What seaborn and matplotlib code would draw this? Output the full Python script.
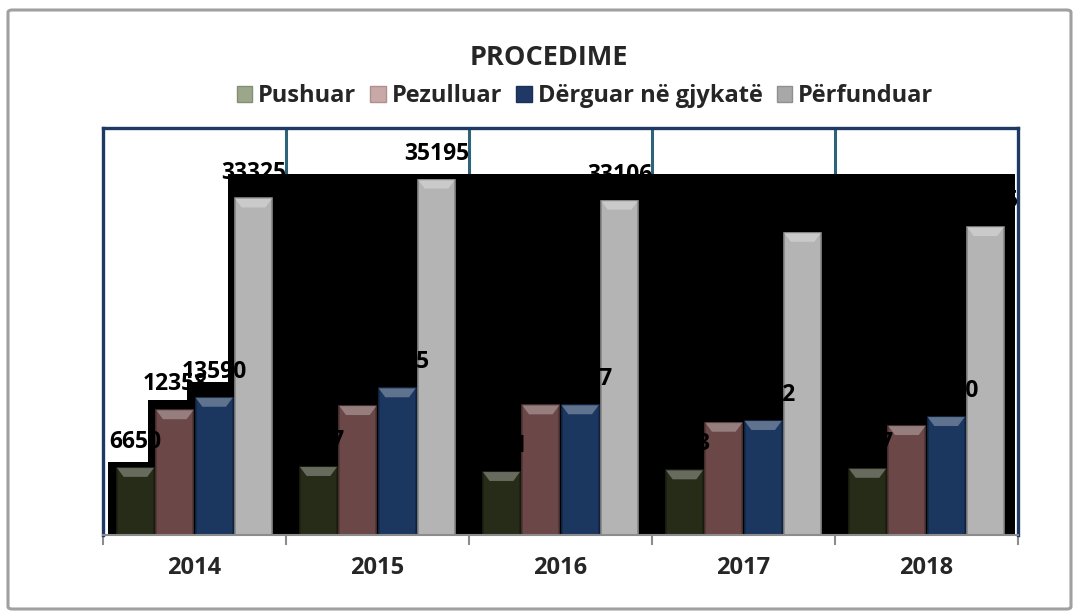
import numpy as np
import pandas as pd
import matplotlib
matplotlib.use("Agg")
import matplotlib.pyplot as plt
import matplotlib.colors as mcolors
from matplotlib.patches import Polygon, Patch, FancyBboxPatch
import seaborn as sns

# ---- data ----
years = ["2014", "2015", "2016", "2017", "2018"]
series = ["Pushuar", "Pezulluar", "Dërguar në gjykatë", "Përfunduar"]
pushuar = [6650, 6737, 6241, 6403, 6557]
pezulluar = [12358, 12770, 12840, 11120, 10790]
derguar = [13590, 14525, 12847, 11292, 11680]
perfunduar = [33325, 35195, 33106, 29930, 30495]

bar_colors = ["#262c18", "#6b4847", "#1b365f", "#b4b4b4"]
legend_colors = ["#9ba68a", "#c9a9a7", "#1f3864", "#a8a8a8"]

df = pd.DataFrame({
    "Viti": years * 4,
    "Seria": [s for s in series for _ in years],
    "Vlera": pushuar + pezulluar + derguar + perfunduar,
})

sns.set_theme(style="white")
plt.rcParams['font.family'] = ['Open Sans', 'DejaVu Sans']

W, H = 1077, 614
fig = plt.figure(figsize=(W / 100, H / 100), dpi=100)
fig.patch.set_facecolor("white")

# outer chart frame
frame = FancyBboxPatch((8 / W, 1 - 609 / H), 1063 / W, 599 / H,
                       boxstyle="round,pad=0,rounding_size=0.004",
                       transform=fig.transFigure, fc="white", ec="#a0a0a0",
                       lw=2.2, zorder=-5)
fig.add_artist(frame)

ax = fig.add_axes([103 / W, 1 - 535 / H, 915 / W, 407 / H])
ax.set_facecolor("white")

sns.barplot(data=df, x="Viti", y="Vlera", hue="Seria", order=years,
            hue_order=series, palette=dict(zip(series, bar_colors)),
            width=0.86, gap=0.06, saturation=1, errorbar=None,
            legend=False, ax=ax, zorder=2)

bars = list(ax.patches)
ax.set_xlim(-0.5, 4.5)
ax.set_ylim(0, 40300)

# bevel look on bars
cap = 9 * 40300 / 407
for p in bars:
    fc = p.get_facecolor()
    p.set_edgecolor(tuple(np.array(fc[:3]) * 0.75) + (1,))
    p.set_linewidth(1.2)
    x0, w, h = p.get_x(), p.get_width(), p.get_height()
    light = tuple(np.clip(np.array(fc[:3]) * 0.5 + 0.5, 0, 1))
    ins = w * 0.18
    ax.add_patch(Polygon([(x0, h), (x0 + w, h), (x0 + w - ins, h - cap),
                          (x0 + ins, h - cap)], closed=True, fc=light,
                         ec="none", alpha=0.6, zorder=2.5))

# value labels
for cont in ax.containers:
    ax.bar_label(cont, fmt="%d", padding=10, fontsize=16.5, fontweight="bold",
                 color="black", zorder=6)

# category separators
for b in np.arange(0.5, 4.5, 1):
    ax.axvline(b, color="#2e6479", lw=2.2, zorder=0.4)

# dark rendering artefact covering the plot area
def fx(px):
    return (px - 103) / 915

def fy(py):
    return (535 - py) / 407

black_pts = [(108, 535), (108, 462), (148, 462), (148, 400), (187, 400),
             (187, 382), (228, 382), (228, 174), (1015, 174), (1015, 535)]
ax.add_patch(Polygon([(fx(a), fy(b)) for a, b in black_pts], closed=True,
                     fc="black", ec="none", transform=ax.transAxes,
                     zorder=1))

# axes styling
for s in ["left", "top", "right"]:
    ax.spines[s].set_color("#1f3864")
    ax.spines[s].set_linewidth(2.4)
ax.spines["bottom"].set_color("#8c8c8c")
ax.spines["bottom"].set_linewidth(1.5)
ax.set_yticks([])
ax.set_xlabel("")
ax.set_ylabel("")
ax.set_xticks(range(len(years)))
ax.set_xticklabels(years, fontsize=17, fontweight="bold")
ax.tick_params(axis="x", which="major", length=0, pad=15)
ax.set_xticks(np.arange(-0.5, len(years), 1), minor=True)
ax.tick_params(axis="x", which="minor", length=7, width=1.5,
               color="#8c8c8c", direction="out", bottom=True)

# title and legend
fig.text(549 / W, 1 - 58 / H, "PROCEDIME", ha="center", va="center",
         fontsize=19.5, fontweight="bold")
handles = [Patch(fc=c, ec=tuple(np.array(mcolors.to_rgb(c)) * 0.85))
           for c in legend_colors]
fig.legend(handles, series, loc="center", bbox_to_anchor=(585 / W, 1 - 96 / H),
           ncol=4, frameon=False, prop={"size": 17, "weight": "bold"},
           handlelength=0.65, handleheight=0.65, handletextpad=0.25,
           columnspacing=0.6)

fig.savefig("out.png", dpi=100)
